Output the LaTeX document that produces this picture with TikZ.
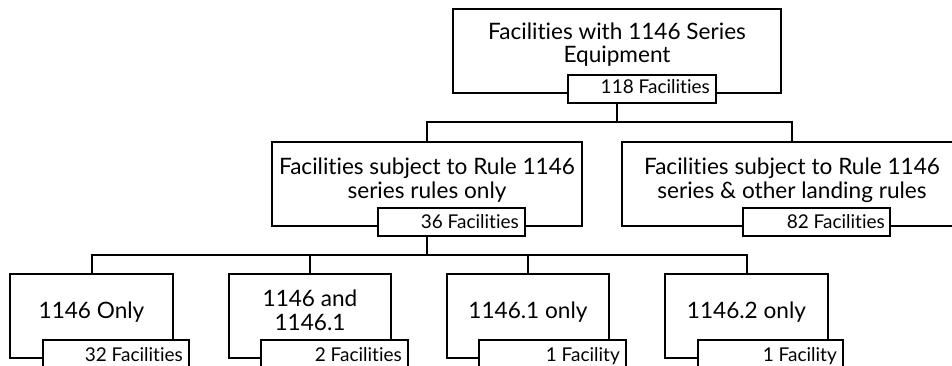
\documentclass[tikz,border=0pt]{standalone}
\usepackage{fontspec}
\setmainfont{Lato}[Ligatures=NoCommon]
\begin{document}
\begin{tikzpicture}[x=1pt,y=-1pt,
  box/.style={draw, line width=2pt, rectangle, inner sep=0pt},
  subbox/.style={box, fill=white, minimum height=28pt},
  big/.style={inner sep=0pt, font=\fontsize{22.6}{26}\selectfont},
  small/.style={inner sep=0pt, font=\fontsize{19}{22}\selectfont},
  conn/.style={line width=2pt}]
\clip (0,0) rectangle (952,366);
\useasboundingbox (0,0) rectangle (952,366);
% junction points
\coordinate (j1) at (617,122);
\coordinate (j2) at (427,255);
% main boxes
\node[box, minimum width=328pt, minimum height=84pt] (top) at (617,51) {};
\node[box, minimum width=310pt, minimum height=84pt] (mid1) at (427,184) {};
\node[box, minimum width=340pt, minimum height=84pt] (mid2) at (792,184) {};
\node[box, minimum width=163pt, minimum height=84pt] (b1) at (91.5,316) {};
\node[box, minimum width=162pt, minimum height=84pt] (b2) at (310,316) {};
\node[box, minimum width=162pt, minimum height=84pt] (b3) at (528,316) {};
\node[box, minimum width=163pt, minimum height=84pt] (b4) at (746.5,316) {};
% count boxes
\node[subbox, minimum width=148pt] (s118) at (642,89) {};
\node[subbox, minimum width=147pt] (s36) at (451.5,222) {};
\node[subbox, minimum width=147pt] (s82) at (816.5,222) {};
\node[subbox, minimum width=146pt, minimum height=32pt] (s32) at (116,356) {};
\node[subbox, minimum width=147pt, minimum height=32pt] (s2) at (334.5,356) {};
\node[subbox, minimum width=147pt, minimum height=32pt] (s3) at (552.5,356) {};
\node[subbox, minimum width=145pt, minimum height=32pt] (s4) at (770.5,356) {};
% connector lines
\draw[conn] (s118.south -| j1) -- (j1);
\draw[conn] (mid1.north) |- (j1) -| (mid2.north);
\draw[conn] (s36.south -| j2) -- (j2);
\draw[conn] (b1.north) |- (j2) -| (b4.north);
\draw[conn] (b2.north) -- (b2.north |- j2);
\draw[conn] (b3.north) -- (b3.north |- j2);
% texts
\node[big, anchor=base] (ttop1) at (617,40) {Facilities with 1146 Series};
\node[big, anchor=base] (ttop2) at (617,63) {Equipment};
\node[small, anchor=base east] (t118) at (710,94) {118 Facilities};
\node[big, anchor=base] (tm11) at (427,175) {Facilities subject to Rule 1146};
\node[big, anchor=base] (tm12) at (427,198) {series rules only};
\node[small, anchor=base east] (t36) at (519,228) {36 Facilities};
\node[big, anchor=base] (tm21) at (792,175) {Facilities subject to Rule 1146};
\node[big, anchor=base] (tm22) at (792,198) {series \& other landing rules};
\node[small, anchor=base east] (t82) at (885,228) {82 Facilities};
\node[big, anchor=base] (tb1) at (91.5,318) {1146 Only};
\node[big, anchor=base] (tb2a) at (310,306) {1146 and};
\node[big, anchor=base] (tb2b) at (310,330) {1146.1};
\node[big, anchor=base] (tb3) at (528,318) {1146.1 only};
\node[big, anchor=base] (tb4) at (746.5,318) {1146.2 only};
\node[small, anchor=base east] (ts32) at (183,361) {32 Facilities};
\node[small, anchor=base east] (ts2) at (402,361) {2 Facilities};
\node[small, anchor=base east] (ts3) at (620,361) {1 Facility};
\node[small, anchor=base east] (ts4) at (837,361) {1 Facility};
\end{tikzpicture}
\end{document}
